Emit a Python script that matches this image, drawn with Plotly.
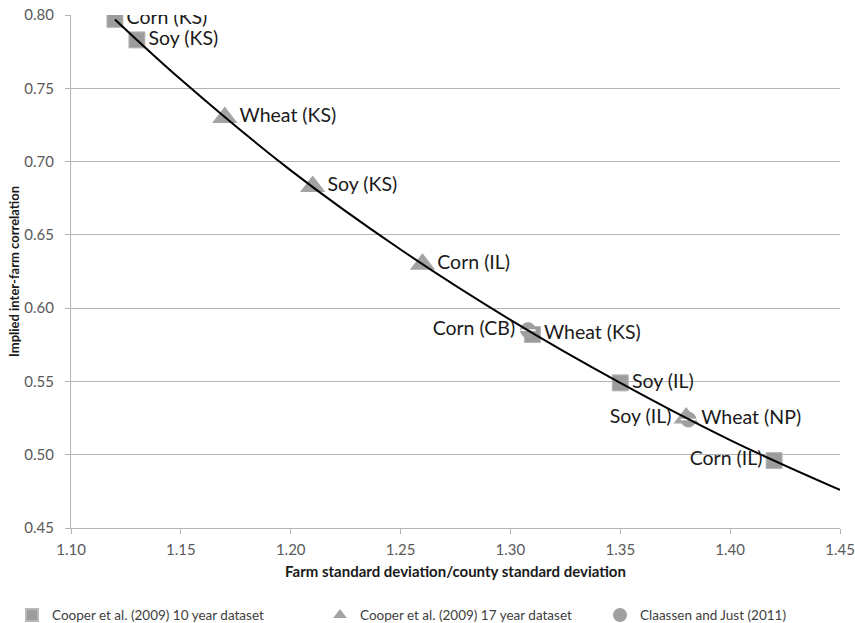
import plotly.graph_objects as go

# Cooper et al. (2009) 10 year dataset (squares)
sq_x = [1.12, 1.13, 1.31, 1.35, 1.42]
sq_y = [0.797, 0.783, 0.582, 0.549, 0.496]
sq_labels = ["Corn (KS)", "Soy (KS)", "Wheat (KS)", "Soy (IL)", "Corn (IL)"]
sq_pos = ["middle right", "middle right", "middle right", "middle right", "middle left"]

# Cooper et al. (2009) 17 year dataset (triangles)
tri_x = [1.17, 1.21, 1.26, 1.38]
tri_y = [0.730, 0.683, 0.630, 0.525]
tri_labels = ["Wheat (KS)", "Soy (KS)", "Corn (IL)", "Soy (IL)"]
tri_pos = ["middle right", "middle right", "middle right", "middle left"]

# Claassen and Just (2011) (striped circles)
circ_x = [1.308, 1.381]
circ_y = [0.585, 0.524]
circ_labels = ["Corn (CB)", "Wheat (NP)"]
circ_pos = ["middle left", "middle right"]

# curve
curve_x = [1.12, 1.15, 1.20, 1.25, 1.30, 1.35, 1.40, 1.45]
curve_y = [0.797, 0.756, 0.694, 0.640, 0.592, 0.549, 0.510, 0.476]

x_ticks = [1.10, 1.15, 1.20, 1.25, 1.30, 1.35, 1.40, 1.45]
y_ticks = [0.45, 0.50, 0.55, 0.60, 0.65, 0.70, 0.75, 0.80]

FONT = "Lato"
LABEL_FONT = dict(family=FONT, size=19.5, color="#1a1a1a")
LEG_FONT = dict(family=FONT, size=13.5, color="#404040")

fig = go.Figure()

fig.add_trace(go.Scatter(
    x=sq_x, y=sq_y, mode="markers", name="Cooper et al. (2009) 10 year dataset",
    legend="legend",
    marker=dict(symbol="square", size=16, color="#9c9c9c", line=dict(color="#b8b8b8", width=1)),
))
fig.add_trace(go.Scatter(
    x=tri_x, y=tri_y, mode="markers", name="Cooper et al. (2009) 17 year dataset",
    legend="legend2",
    marker=dict(symbol="triangle-up", size=22, color="#a3a3a3", line=dict(width=0)),
))
fig.add_trace(go.Scatter(
    x=circ_x, y=circ_y, mode="markers", name="Claassen and Just (2011)",
    legend="legend3",
    marker=dict(symbol="circle", size=15, color="#a0a0a0", line=dict(color="#a0a0a0", width=1)),
))
fig.add_trace(go.Scatter(
    x=circ_x, y=circ_y, mode="markers", showlegend=False, hoverinfo="skip",
    marker=dict(symbol="line-ew", size=11, line=dict(color="white", width=1.5)),
))

fig.add_trace(go.Scatter(
    x=curve_x, y=curve_y, mode="lines", showlegend=False,
    line=dict(color="black", width=2, shape="spline"),
))

for xs, ys, labels, pos, msize in [(sq_x, sq_y, sq_labels, sq_pos, 17),
                                   (tri_x, tri_y, tri_labels, tri_pos, 22),
                                   (circ_x, circ_y, circ_labels, circ_pos, 19)]:
    fig.add_trace(go.Scatter(
        x=xs, y=ys, mode="markers+text", text=labels, textposition=pos,
        textfont=LABEL_FONT, showlegend=False, hoverinfo="skip",
        marker=dict(size=msize, color="rgba(0,0,0,0)"),
    ))

axis_common = dict(
    showline=True, linecolor="#b4b4b4", linewidth=1,
    ticks="outside", ticklen=5, tickcolor="#b4b4b4",
    tickfont=dict(family=FONT, size=15, color="#595959"),
    zeroline=False,
)

fig.update_xaxes(
    range=[1.10, 1.45], tickvals=x_ticks, tickformat=".2f", showgrid=False,
    ticklabelstandoff=3,
    title=dict(text="<b>Farm standard deviation/county standard deviation</b>",
               font=dict(family=FONT, size=15, color="#1a1a1a"), standoff=9),
    **axis_common,
)
fig.update_yaxes(
    range=[0.45, 0.80], tickvals=y_ticks, tickformat=".2f",
    showgrid=True, gridcolor="#b4b4b4", gridwidth=1,
    ticklabelstandoff=8,
    title=dict(text="<b>Implied inter-farm correlation</b>",
               font=dict(family=FONT, size=13, color="#1a1a1a"), standoff=1),
    **axis_common,
)

leg_common = dict(orientation="h", yanchor="middle", y=-0.17, xanchor="left",
                  font=LEG_FONT, itemsizing="constant", itemwidth=30,
                  bgcolor="rgba(0,0,0,0)")

fig.update_layout(
    width=855, height=623,
    margin=dict(l=71, r=15, t=15, b=95, autoexpand=False),
    paper_bgcolor="white", plot_bgcolor="white",
    font=dict(family=FONT, color="#404040"),
    legend=dict(x=(12 - 71) / 769, **leg_common),
    legend2=dict(x=(320 - 71) / 769, **leg_common),
    legend3=dict(x=(600 - 71) / 769, **leg_common),
)

fig.write_html(
    "out.html",
    config={"displayModeBar": False},
    post_script="document.body.style.margin='0px';document.body.style.overflow='hidden';",
)
